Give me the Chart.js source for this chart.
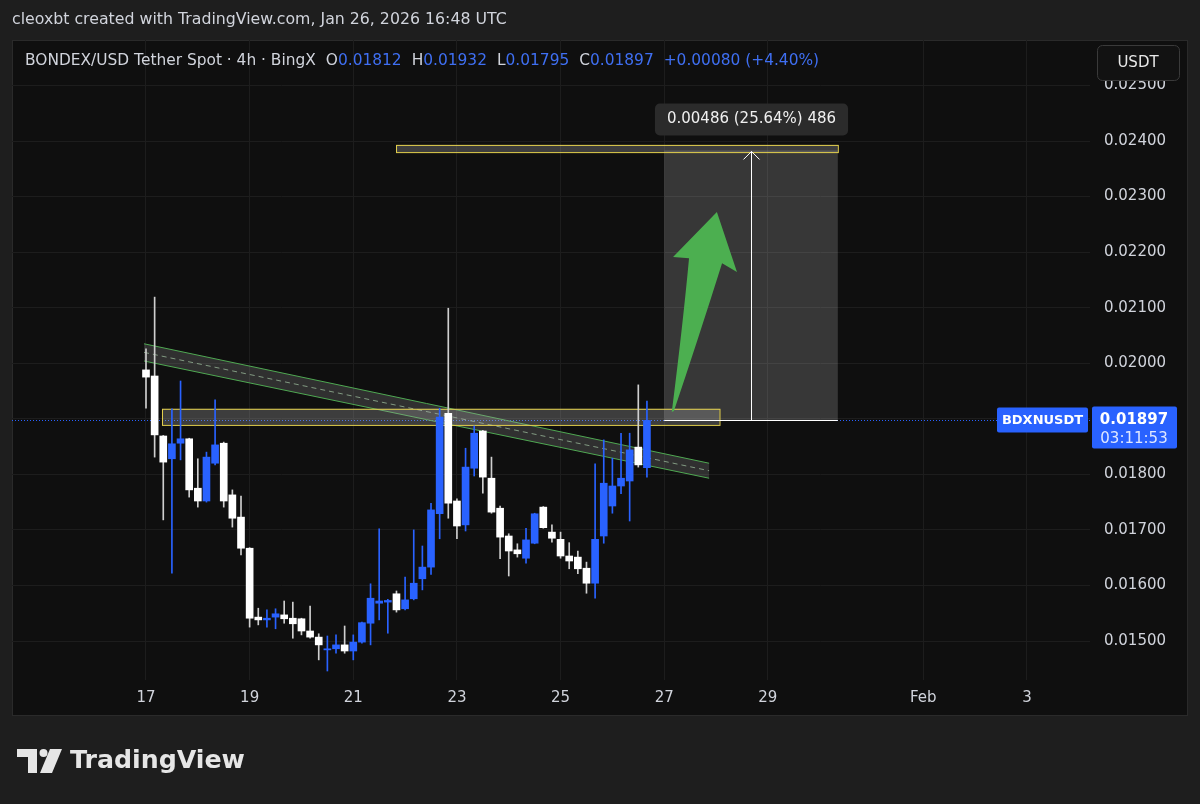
<!DOCTYPE html>
<html lang="en">
<head>
<meta charset="UTF-8">
<title>BONDEX/USDT 4h</title>
<script src="https://cdn.jsdelivr.net/npm/chart.js"></script>
<style>
  html, body { margin: 0; padding: 0; background: #1e1e1e; }
  #grafico { display: block; }
</style>
</head>
<body>
<canvas id="grafico" width="1200" height="804"></canvas>
<script>
  // 4h candles, first one is Jan 17 00:00 UTC
  var open_prices = [0.01988, 0.01977, 0.01869, 0.01828, 0.01856, 0.01864, 0.01775, 0.01752, 0.01820, 0.01856,
    0.01763, 0.01723, 0.01667, 0.01543, 0.01538, 0.01543, 0.01547, 0.01541, 0.01540, 0.01518,
    0.01507, 0.01484, 0.01486, 0.01493, 0.01482, 0.01498, 0.01532, 0.01568, 0.01570, 0.01585,
    0.01558, 0.01576, 0.01612, 0.01633, 0.01729, 0.01910, 0.01752, 0.01709, 0.01811, 0.01878,
    0.01793, 0.01739, 0.01689, 0.01664, 0.01649, 0.01676, 0.01741, 0.01696, 0.01683, 0.01653,
    0.01651, 0.01631, 0.01604, 0.01689, 0.01743, 0.01779, 0.01788, 0.01849, 0.01812];
  var high_prices = [0.02026, 0.02119, 0.01870, 0.01918, 0.01968, 0.01865, 0.01828, 0.01840, 0.01934, 0.01858,
    0.01772, 0.01761, 0.01668, 0.01559, 0.01556, 0.01558, 0.01572, 0.01570, 0.01541, 0.01563,
    0.01513, 0.01509, 0.01511, 0.01527, 0.01511, 0.01534, 0.01603, 0.01702, 0.01575, 0.01590,
    0.01615, 0.01700, 0.01671, 0.01748, 0.01919, 0.02099, 0.01756, 0.01847, 0.01887, 0.01879,
    0.01831, 0.01743, 0.01693, 0.01675, 0.01703, 0.01730, 0.01742, 0.01709, 0.01696, 0.01677,
    0.01662, 0.01642, 0.01819, 0.01862, 0.01829, 0.01874, 0.01874, 0.01961, 0.01932];
  var low_prices = [0.01919, 0.01831, 0.01718, 0.01622, 0.01826, 0.01759, 0.01741, 0.01750, 0.01817, 0.01741,
    0.01705, 0.01655, 0.01525, 0.01529, 0.01525, 0.01522, 0.01532, 0.01505, 0.01511, 0.01505,
    0.01466, 0.01446, 0.01478, 0.01478, 0.01466, 0.01496, 0.01493, 0.01538, 0.01514, 0.01552,
    0.01556, 0.01574, 0.01592, 0.01620, 0.01684, 0.01721, 0.01684, 0.01698, 0.01797, 0.01766,
    0.01730, 0.01648, 0.01617, 0.01651, 0.01640, 0.01675, 0.01703, 0.01678, 0.01649, 0.01630,
    0.01621, 0.01586, 0.01577, 0.01676, 0.01730, 0.01765, 0.01716, 0.01813, 0.01795];
  var close_prices = [0.01975, 0.01871, 0.01822, 0.01855, 0.01864, 0.01772, 0.01752, 0.01831, 0.01853, 0.01752,
    0.01721, 0.01667, 0.01541, 0.01538, 0.01541, 0.01549, 0.01540, 0.01531, 0.01518, 0.01507,
    0.01493, 0.01486, 0.01493, 0.01482, 0.01498, 0.01533, 0.01577, 0.01572, 0.01573, 0.01556,
    0.01574, 0.01604, 0.01633, 0.01736, 0.01903, 0.01748, 0.01707, 0.01813, 0.01874, 0.01795,
    0.01732, 0.01687, 0.01662, 0.01657, 0.01682, 0.01729, 0.01704, 0.01685, 0.01653, 0.01644,
    0.01630, 0.01604, 0.01683, 0.01784, 0.01779, 0.01793, 0.01844, 0.01817, 0.01897];

  // time axis (day of January, Feb 1 = 32)
  var tick_days = [17, 19, 21, 23, 25, 27, 29, 32, 34];
  var tick_labels = ["17", "19", "21", "23", "25", "27", "29", "Feb", "3"];
  var price_ticks = [0.015, 0.016, 0.017, 0.018, 0.019, 0.020, 0.021, 0.022, 0.023, 0.024, 0.025];

  var blue = "#2962ff";
  var text_color = "#d1d4dc";
  var font_name = "DejaVu Sans";

  var last = close_prices.length - 1;
  var target_price = 0.02383;
  var measure_text = "0.00486 (25.64%) 486";

  // x is hours since Jan 17 00:00
  var body_data = open_prices.map(function (o, i) { return { x: i * 4, y: [o, close_prices[i]] }; });
  var wick_data = low_prices.map(function (l, i) { return { x: i * 4, y: [l, high_prices[i]] }; });
  var body_colors = open_prices.map(function (o, i) { return close_prices[i] >= o ? blue : "#ffffff"; });
  var wick_colors = open_prices.map(function (o, i) { return close_prices[i] >= o ? blue : "#cfcfcf"; });

  function px(chart, h) { return chart.scales.x.getPixelForValue(h); }
  function py(chart, p) { return chart.scales.y.getPixelForValue(p); }

  function fit_font(c, text, width, size, weight) {
    c.font = weight + " " + size + "px '" + font_name + "'";
    var s = size * width / c.measureText(text).width;
    c.font = weight + " " + s.toFixed(2) + "px '" + font_name + "'";
  }

  function round_rect(c, x, y, w, h, r) {
    c.beginPath();
    c.moveTo(x + r, y);
    c.arcTo(x + w, y, x + w, y + h, r);
    c.arcTo(x + w, y + h, x, y + h, r);
    c.arcTo(x, y + h, x, y, r);
    c.arcTo(x, y, x + w, y, r);
    c.closePath();
  }

  const tv_plugin = {
    id: "tv_plugin",
    beforeDraw(chart) {
      const c = chart.ctx;
      c.save();
      c.fillStyle = "#1e1e1e";
      c.fillRect(0, 0, chart.width, chart.height);
      c.fillStyle = "#0f0f0f";
      c.fillRect(12, 40, 1176, 676);
      c.strokeStyle = "#2a2a2a";
      c.strokeRect(12.5, 40.5, 1175, 675);
      c.restore();
    },
    beforeDatasetsDraw(chart) {
      // drawings that sit under the candles
      const c = chart.ctx;
      const a = chart.chartArea;
      const base_y = py(chart, close_prices[last]);
      c.save();

      // dotted last price line
      const y = Math.round(base_y) + 0.5;
      c.strokeStyle = blue;
      c.lineWidth = 1;
      c.setLineDash([1, 2]);
      c.beginPath();
      c.moveTo(a.left, y);
      c.lineTo(a.right, y);
      c.stroke();
      c.setLineDash([]);

      // projection range
      var x1 = px(chart, 240), x2 = px(chart, 320.4), top = py(chart, target_price);
      c.fillStyle = "rgba(255,255,255,0.17)";
      c.fillRect(x1, top, x2 - x1, base_y - top);

      // descending channel
      var cl = px(chart, -0.9), cr = px(chart, 260.8);
      c.fillStyle = "rgba(170,170,170,0.22)";
      c.beginPath();
      c.moveTo(cl, py(chart, 0.02035));
      c.lineTo(cr, py(chart, 0.01820));
      c.lineTo(cr, py(chart, 0.01793));
      c.lineTo(cl, py(chart, 0.02004));
      c.closePath();
      c.fill();
      c.strokeStyle = "#4fa852";
      c.beginPath();
      c.moveTo(cl, py(chart, 0.02035)); c.lineTo(cr, py(chart, 0.01820));
      c.moveTo(cl, py(chart, 0.02004)); c.lineTo(cr, py(chart, 0.01793));
      c.stroke();
      c.strokeStyle = "rgba(150,180,150,0.8)";
      c.setLineDash([5, 4]);
      c.beginPath();
      c.moveTo(cl, py(chart, 0.020195)); c.lineTo(cr, py(chart, 0.018065));
      c.stroke();
      c.setLineDash([]);

      // support zone and target zone
      var boxes = [[7.4, 265.6, 0.01918, 0.01889], [115.8, 320.4, 0.02393, 0.02380]];
      boxes.forEach(function (b) {
        var bx = px(chart, b[0]), bw = px(chart, b[1]) - bx;
        var by = py(chart, b[2]), bh = py(chart, b[3]) - by;
        c.fillStyle = "rgba(170,170,170,0.3)";
        c.fillRect(bx, by, bw, bh);
        c.strokeStyle = "#e6d24e";
        c.strokeRect(bx + 0.5, by + 0.5, bw, bh);
      });
      c.restore();
    },
    afterDatasetsDraw(chart) {
      const c = chart.ctx;
      const base_y = py(chart, close_prices[last]);
      var x1 = px(chart, 240), x2 = px(chart, 320.4), top = py(chart, target_price);
      c.save();

      // measure line with arrow head
      var mx = Math.round(px(chart, 280)) + 0.5;
      c.strokeStyle = "#ffffff";
      c.lineWidth = 1;
      c.beginPath();
      c.moveTo(mx, base_y);
      c.lineTo(mx, top + 1);
      c.moveTo(mx - 8, top + 9);
      c.lineTo(mx, top + 1);
      c.lineTo(mx + 8, top + 9);
      c.moveTo(x1, Math.round(base_y) + 0.5);
      c.lineTo(x2, Math.round(base_y) + 0.5);
      c.stroke();

      // measure label
      c.font = "15px '" + font_name + "'";
      var tw = c.measureText(measure_text).width;
      c.fillStyle = "#2b2b2b";
      round_rect(c, mx - tw / 2 - 12, top - 47, tw + 24, 32, 5);
      c.fill();
      c.fillStyle = "#f0f0f0";
      c.textAlign = "center";
      c.textBaseline = "middle";
      c.fillText(measure_text, mx, top - 31);

      // green arrow
      c.fillStyle = "#4caf50";
      c.beginPath();
      c.moveTo(px(chart, 243.5), py(chart, 0.01912));
      c.quadraticCurveTo(px(chart, 248.7), py(chart, 0.02072), px(chart, 251.5), py(chart, 0.02189));
      c.lineTo(px(chart, 244.1), py(chart, 0.02191));
      c.lineTo(px(chart, 264.4), py(chart, 0.02272));
      c.lineTo(px(chart, 273.7), py(chart, 0.02164));
      c.lineTo(px(chart, 266.8), py(chart, 0.02180));
      c.quadraticCurveTo(px(chart, 255.6), py(chart, 0.02042), px(chart, 244.5), py(chart, 0.01914));
      c.closePath();
      c.fill();
      c.restore();
    },
    afterDraw(chart) {
      const c = chart.ctx;
      const a = chart.chartArea;
      c.save();
      c.textBaseline = "middle";

      // top caption
      c.fillStyle = text_color;
      fit_font(c, "cleoxbt created with TradingView.com, Jan 26, 2026 16:48 UTC", 495, 15, "normal");
      c.fillText("cleoxbt created with TradingView.com, Jan 26, 2026 16:48 UTC", 12, 20);

      // symbol line
      var base = "BONDEX/USD Tether Spot \u00b7 4h \u00b7 BingX";
      fit_font(c, base, 291, 14, "normal");
      var x = 25;
      c.fillText(base, x, 61);
      x += c.measureText(base).width + 10;
      var parts = [["O", open_prices[last]], ["H", high_prices[last]], ["L", low_prices[last]], ["C", close_prices[last]]];
      parts.forEach(function (p) {
        c.fillStyle = text_color;
        c.fillText(p[0], x, 61);
        x += c.measureText(p[0]).width;
        c.fillStyle = "#3f6ff2";
        c.fillText(p[1].toFixed(5), x, 61);
        x += c.measureText(p[1].toFixed(5)).width + 10;
      });
      var diff = close_prices[last] - close_prices[last - 1];
      var pct = diff / close_prices[last - 1] * 100;
      c.fillText("+" + diff.toFixed(5) + " (+" + pct.toFixed(2) + "%)", x, 61);

      // USDT button
      c.fillStyle = "#121212";
      round_rect(c, 1097.5, 45.5, 82, 35, 5);
      c.fill();
      c.strokeStyle = "#3a3a3a";
      c.stroke();
      c.fillStyle = "#e8e8e8";
      c.textAlign = "center";
      c.font = "15px '" + font_name + "'";
      c.fillText("USDT", 1138, 63);

      // last price labels
      var ly = py(chart, close_prices[last]);
      c.fillStyle = blue;
      round_rect(c, 997, ly - 13, 91, 25, 2);
      c.fill();
      round_rect(c, a.right + 2, ly - 14, 85, 42, 2);
      c.fill();
      c.fillStyle = "#ffffff";
      c.font = "bold 13px '" + font_name + "'";
      c.fillText("BDXNUSDT", 1042.5, ly);
      c.font = "bold 15px '" + font_name + "'";
      c.fillText(close_prices[last].toFixed(5), a.right + 44, ly);
      c.fillStyle = "rgba(255,255,255,0.85)";
      c.font = "15px '" + font_name + "'";
      c.fillText("03:11:53", a.right + 44, ly + 19);

      // footer logo
      c.fillStyle = "#e6e6e6";
      c.fillRect(17, 749, 20, 8);
      c.fillRect(28, 749, 9, 24);
      c.beginPath();
      c.arc(43.5, 753, 4, 0, Math.PI * 2);
      c.fill();
      c.beginPath();
      c.moveTo(50, 749);
      c.lineTo(62, 749);
      c.lineTo(52, 773);
      c.lineTo(40, 773);
      c.closePath();
      c.fill();
      c.textAlign = "left";
      fit_font(c, "TradingView", 175, 28, "bold");
      c.fillText("TradingView", 70, 761);
      c.restore();
    }
  };

  const grafico = document.getElementById("grafico");
  new Chart(grafico, {
    type: "bar",
    data: {
      datasets: [
        {
          label: "wick",
          data: wick_data,
          backgroundColor: wick_colors,
          barThickness: 1,
          grouped: false,
          order: 2,
        },
        {
          label: "body",
          data: body_data,
          backgroundColor: body_colors,
          barThickness: 7,
          minBarLength: 1,
          grouped: false,
          order: 1,
        },
      ],
    },
    options: {
      responsive: false,
      animation: false,
      devicePixelRatio: 1,
      layout: { padding: { left: 12, top: 40, right: 12, bottom: 88 } },
      plugins: {
        legend: { display: false },
        tooltip: { enabled: false },
      },
      scales: {
        x: {
          type: "linear",
          offset: false,
          min: -62.06,
          max: 437.2,
          grid: { color: "#1d1d1d", drawTicks: false, offset: false },
          border: { display: false },
          ticks: {
            color: text_color,
            font: { family: font_name, size: 15 },
            padding: 9,
            autoSkip: false,
            maxRotation: 0,
            callback: function (value, index) { return tick_labels[index]; },
          },
          afterBuildTicks: function (scale) {
            scale.ticks = tick_days.map(function (d) { return { value: (d - 17) * 24 }; });
          },
          afterFit: function (scale) { scale.height = 36; },
        },
        y: {
          position: "right",
          min: 0.014298,
          max: 0.025818,
          grid: { color: "#1d1d1d", drawTicks: false },
          border: { display: false },
          ticks: {
            color: text_color,
            font: { family: font_name, size: 15 },
            padding: 14,
            callback: function (value) { return value.toFixed(5); },
          },
          afterBuildTicks: function (scale) {
            scale.ticks = price_ticks.map(function (v) { return { value: v }; });
          },
          afterFit: function (scale) { scale.width = 98; },
        },
      },
    },
    plugins: [tv_plugin],
  });
</script>
</body>
</html>
